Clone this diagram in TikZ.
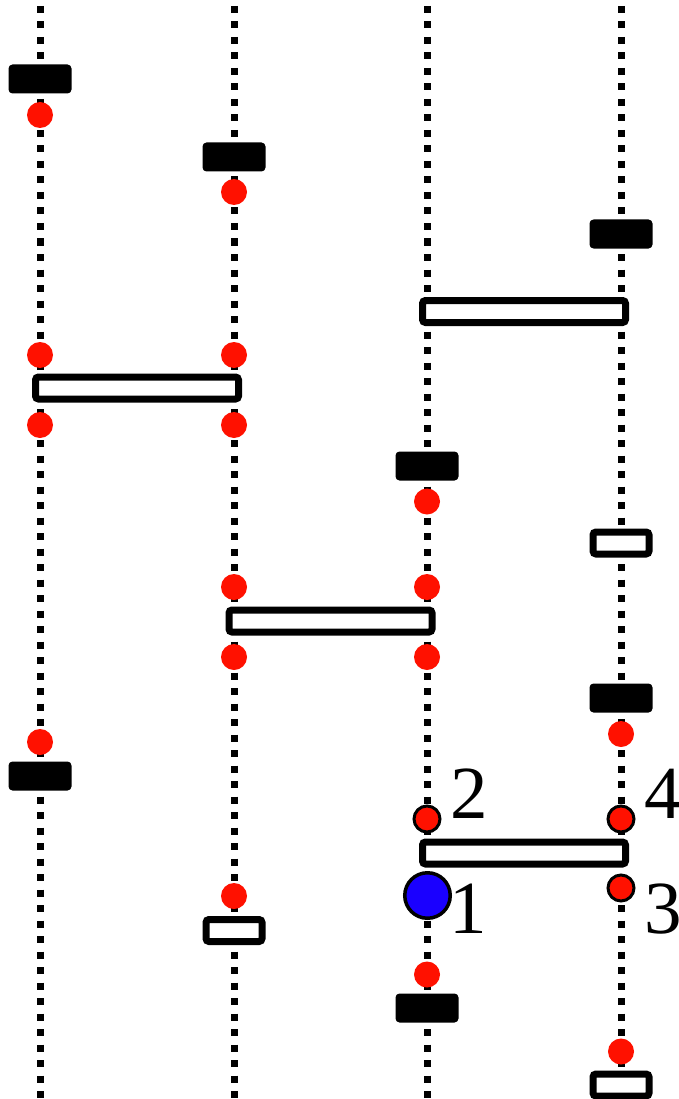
\documentclass[tikz,border=0pt]{standalone}
\usepackage{fontspec}
\setmainfont{Liberation Serif}
\definecolor{dotred}{RGB}{255,17,0}
\definecolor{dotblue}{RGB}{26,0,255}
\begin{document}
\begin{tikzpicture}[x=1pt,y=-1pt,
  dotline/.style={line width=7pt,dash pattern=on 7pt off 8.5pt,line cap=butt},
  blackbox/.style={fill=black,rounded corners=4pt,minimum width=63pt,minimum height=29pt,inner sep=0pt},
  whitebox/.style={draw=black,fill=white,line width=7pt,rounded corners=3pt,minimum width=56pt,minimum height=22pt,inner sep=0pt},
  widebox/.style={draw=black,fill=white,line width=7pt,rounded corners=3pt,minimum width=203pt,minimum height=22pt,inner sep=0pt},
  reddot/.style={circle,fill=dotred,minimum size=26pt,inner sep=0pt},
  redring/.style={circle,fill=dotred,draw=black,line width=3pt,minimum size=26pt,inner sep=0pt},
  bluedot/.style={circle,fill=dotblue,draw=black,line width=3.5pt,minimum size=45.5pt,inner sep=0pt},
  lab/.style={anchor=base west,inner sep=0pt,font=\fontsize{75pt}{75pt}\selectfont}]
\useasboundingbox (0,0) rectangle (678,1099);
% vertical dotted lines
\foreach \i/\x in {1/40,2/234,3/427,4/621}{
  \coordinate (t\i) at (\x,-9.5);
  \coordinate (b\i) at (\x,1115);
  \draw[dotline] (t\i) -- (b\i);
}
% column 1
\node[blackbox] (k1a) at (40,79) {};
\node[reddot] (r1a) at (40,115) {};
\node[reddot] (r1b) at (40,355) {};
\node[reddot] (r1c) at (40,425) {};
\node[reddot] (r1d) at (40,742) {};
\node[blackbox] (k1b) at (40,776) {};
% column 2
\node[blackbox] (k2a) at (234,157) {};
\node[reddot] (r2a) at (234,192) {};
\node[reddot] (r2b) at (234,355) {};
\node[reddot] (r2c) at (234,425) {};
\node[reddot] (r2d) at (234,587) {};
\node[reddot] (r2e) at (234,657) {};
\node[reddot] (r2f) at (234,896) {};
\node[whitebox] (w2a) at (234,930.5) {};
% column 3
\node[blackbox] (k3a) at (427,466) {};
\node[reddot] (r3a) at (427,501.5) {};
\node[reddot] (r3b) at (427,587) {};
\node[reddot] (r3c) at (427,657) {};
\node[redring] (r3d) at (427,819) {};
\node[bluedot] (u3) at (427.5,895.5) {};
\node[reddot] (r3e) at (427,974.5) {};
\node[blackbox] (k3b) at (427,1008) {};
% column 4
\node[blackbox] (k4a) at (621,234) {};
\node[whitebox] (w4a) at (621,543) {};
\node[blackbox] (k4b) at (621,698) {};
\node[reddot] (r4a) at (621,734) {};
\node[redring] (r4b) at (621,819) {};
\node[redring] (r4c) at (621,888) {};
\node[reddot] (r4d) at (621,1051.5) {};
\node[whitebox] (w4b) at (621,1085) {};
% wide boxes
\node[widebox] (h12) at (137,388) {};
\node[widebox] (h23) at (330.5,621) {};
\node[widebox] (h34a) at (524,311.5) {};
\node[widebox] (h34b) at (524,853) {};
% labels
\node[lab] (l2) at (450,818) {2};
\node[lab] (l1) at (449,933) {1};
\node[lab] (l4) at (644,818) {4};
\node[lab] (l3) at (644,933) {3};
\end{tikzpicture}
\end{document}
